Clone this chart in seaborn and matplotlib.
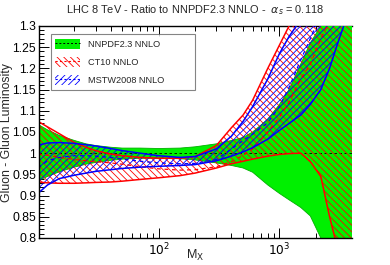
import numpy as np
import pandas as pd
import matplotlib
matplotlib.use("Agg")
import matplotlib.pyplot as plt
import seaborn as sns
from matplotlib.patches import Patch
from matplotlib.lines import Line2D
from matplotlib.ticker import FixedLocator, NullFormatter, MultipleLocator, FuncFormatter

# ---------------- data ----------------
mass = [10, 12, 15, 20, 25, 30, 40, 50, 70, 100, 150, 200, 300, 400, 500,
        600, 800, 1000, 1200, 1500, 1800, 2200, 2600, 3000, 3500, 4000]

nnpdf_hi = [1.068, 1.055, 1.042, 1.030, 1.022, 1.018, 1.014, 1.012, 1.012, 1.011,
            1.012, 1.015, 1.022, 1.030, 1.037, 1.050, 1.080, 1.115, 1.150, 1.210,
            1.260, 1.300, 1.340, 1.380, 1.430, 1.480]
nnpdf_lo = [0.935, 0.945, 0.956, 0.967, 0.974, 0.978, 0.983, 0.986, 0.988, 0.988,
            0.987, 0.984, 0.977, 0.971, 0.965, 0.955, 0.925, 0.905, 0.890, 0.872,
            0.852, 0.800, 0.740, 0.680, 0.600, 0.500]

ct10_hi = [1.075, 1.062, 1.046, 1.025, 1.014, 1.006, 0.998, 0.994, 0.990, 0.988,
           0.988, 0.992, 1.018, 1.060, 1.090, 1.125, 1.200, 1.255, 1.300, 1.360,
           1.420, 1.500, 1.580, 1.660, 1.750, 1.850]
ct10_c = [0.998, 0.995, 0.990, 0.985, 0.982, 0.980, 0.977, 0.974, 0.968, 0.963,
          0.960, 0.961, 0.968, 0.980, 0.995, 1.010, 1.050, 1.085, 1.120, 1.175,
          1.210, 1.270, 1.310, 1.350, 1.400, 1.450]
ct10_lo = [0.932, 0.930, 0.929, 0.929, 0.930, 0.931, 0.932, 0.934, 0.938, 0.942,
           0.947, 0.953, 0.965, 0.975, 0.981, 0.986, 0.993, 0.997, 0.999, 1.000,
           0.980, 0.945, 0.850, 0.780, 0.700, 0.600]

mstw_hi = [1.019, 1.024, 1.025, 1.023, 1.020, 1.017, 1.011, 1.006, 1.000, 0.994,
           0.990, 0.992, 1.010, 1.040, 1.075, 1.110, 1.175, 1.235, 1.275, 1.315,
           1.350, 1.400, 1.450, 1.500, 1.560, 1.620]
mstw_c = [0.965, 0.982, 0.990, 0.994, 0.994, 0.993, 0.990, 0.986, 0.981, 0.977,
          0.975, 0.976, 0.985, 1.010, 1.030, 1.045, 1.072, 1.110, 1.155, 1.220,
          1.270, 1.330, 1.380, 1.430, 1.490, 1.550]
mstw_lo = [0.905, 0.925, 0.940, 0.948, 0.953, 0.957, 0.961, 0.964, 0.967, 0.969,
           0.971, 0.973, 0.982, 0.993, 1.003, 1.013, 1.033, 1.054, 1.070, 1.090,
           1.115, 1.150, 1.200, 1.255, 1.310, 1.370]

labels = ["NNPDF2.3 NNLO", "CT10 NNLO", "MSTW2008 NNLO"]
y_ticks = [0.8, 0.85, 0.9, 0.95, 1.0, 1.05, 1.1, 1.15, 1.2, 1.25, 1.3]
x_ticks = [100, 1000]
x_ticklabels = ["$10^{2}$", "$10^{3}$"]
title = r"LHC 8 TeV - Ratio to NNPDF2.3 NNLO -  $\alpha_{s}$ = 0.118"

df = pd.DataFrame(dict(M=mass, nn_hi=nnpdf_hi, nn_lo=nnpdf_lo,
                       ct_hi=ct10_hi, ct_c=ct10_c, ct_lo=ct10_lo,
                       ms_hi=mstw_hi, ms_c=mstw_c, ms_lo=mstw_lo))

# ---------------- style ----------------
sns.set_theme(style="ticks")
plt.rcParams["font.family"] = ["Liberation Sans", "DejaVu Sans"]
plt.rcParams["hatch.linewidth"] = 0.6

GREEN = "#00f000"
fig = plt.figure(figsize=(3.9, 2.65), dpi=100)
ax = fig.add_axes([0.1, 0.102, 0.803, 0.8])

# NNPDF band
ax.fill_between(df.M, df.nn_lo, df.nn_hi, facecolor=GREEN, edgecolor="none", zorder=1)
sns.lineplot(data=df, x="M", y="nn_hi", ax=ax, color="#00b000", lw=0.6, zorder=1.2)
sns.lineplot(data=df, x="M", y="nn_lo", ax=ax, color="#00b000", lw=0.6, zorder=1.2)
ax.axhline(1.0, color="black", lw=0.6, ls=(0, (3, 3)), zorder=1.3)

# CT10 band (red hatch)
ax.fill_between(df.M, df.ct_lo, df.ct_hi, facecolor="none", edgecolor="red",
                hatch="\\\\\\\\\\", linewidth=0, zorder=1.5)
# MSTW band (blue hatch)
ax.fill_between(df.M, df.ms_lo, df.ms_hi, facecolor="none", edgecolor="blue",
                hatch="/////", linewidth=0, zorder=1.6)

for col, c, ls, lw in [("ct_hi", "red", "-", 1.1), ("ct_lo", "red", "-", 1.1),
                       ("ct_c", "red", (0, (3, 3)), 0.9),
                       ("ms_hi", "blue", "-", 1.1), ("ms_lo", "blue", "-", 1.1),
                       ("ms_c", "blue", (0, (3, 3)), 0.9)]:
    sns.lineplot(data=df, x="M", y=col, ax=ax, color=c, lw=lw, linestyle=ls, zorder=2)

# ---------------- axes ----------------
ax.set_xscale("log")
ax.set_xlim(10.2, 4000)
ax.set_ylim(0.8, 1.3)
ax.xaxis.set_major_locator(FixedLocator(x_ticks))
ax.set_xticklabels(x_ticklabels)
minor = [m * 10 ** e for e in (1, 2, 3) for m in range(2, 10) if m * 10 ** e < 4000]
ax.xaxis.set_minor_locator(FixedLocator(minor))
ax.xaxis.set_minor_formatter(NullFormatter())
ax.yaxis.set_major_locator(FixedLocator(y_ticks))
ax.yaxis.set_major_formatter(FuncFormatter(lambda v, p: f"{v:g}"))
ax.yaxis.set_minor_locator(MultipleLocator(0.01))
ax.tick_params(which="both", direction="in", top=True, right=False,
               labelsize=8.7, width=0.7, colors="black", pad=2)
ax.tick_params(which="major", length=7)
ax.tick_params(which="minor", length=3.5)
ax.tick_params(axis="x", which="major", pad=3)
for s in ["left", "bottom", "top"]:
    ax.spines[s].set_linewidth(1.0)
    ax.spines[s].set_color("black")
ax.spines["top"].set_zorder(0.5)
ax.spines["right"].set_visible(False)

ax.set_xlabel("")
ax.set_ylabel("")
fig.text(195 / 390, 1 - 255 / 265, "M$_{\\mathrm{X}}$", ha="center", va="center",
         fontsize=9)
fig.text(7 / 390, 1 - 133 / 265, "Gluon - Gluon Luminosity", rotation=90,
         ha="center", va="center", fontsize=8.8)
fig.text(0.5, 0.962, title, ha="center", va="center", fontsize=7.9)

# ---------------- legend ----------------
handles = [
    (Patch(facecolor=GREEN, edgecolor="none"),
     Line2D([], [], color="black", ls=(0, (2, 2)), lw=0.7)),
    (Patch(facecolor="white", edgecolor="red", hatch="\\\\\\\\\\", linewidth=0),
     Line2D([], [], color="red", ls=(0, (2, 2)), lw=0.8)),
    (Patch(facecolor="white", edgecolor="blue", hatch="/////", linewidth=0),
     Line2D([], [], color="blue", ls=(0, (2, 2)), lw=0.8)),
]
leg = ax.legend(handles, labels, loc="upper left",
                bbox_to_anchor=(0.038, 0.5, 0.46, 0.462), mode="expand",
                borderaxespad=0, fontsize=6.6, frameon=True, fancybox=False,
                handlelength=2.7, handleheight=1.3, labelspacing=0.9,
                handletextpad=0.8, borderpad=0.5)
leg.get_frame().set_edgecolor("#666666")
leg.get_frame().set_linewidth(0.8)
leg.set_zorder(5)

fig.savefig("out.png", dpi=100)
